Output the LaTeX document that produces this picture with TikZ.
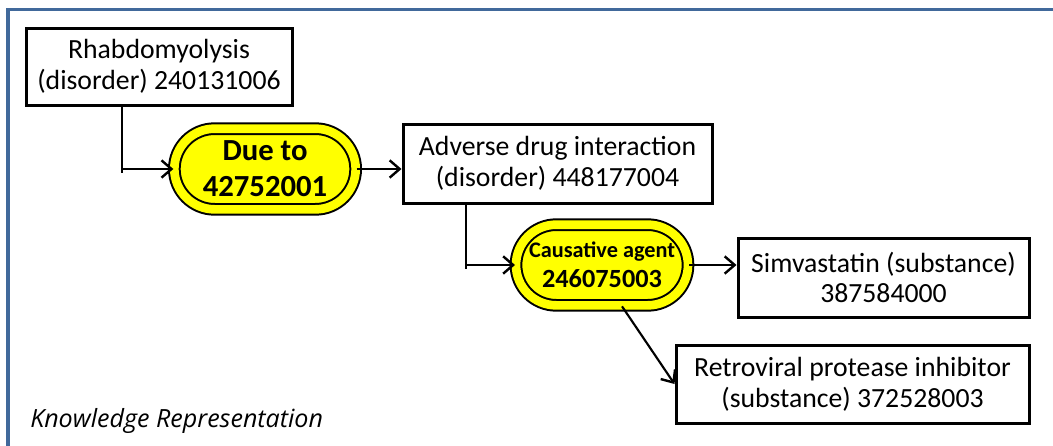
\documentclass[tikz,border=0pt]{standalone}
\usepackage{fontspec}
\setmainfont{Carlito}
\newfontfamily\captionfont{Open Sans}
\usetikzlibrary{shapes.misc, positioning, arrows.meta, calc}
\definecolor{frameblue}{HTML}{41699B}
\definecolor{relyellow}{HTML}{FFFF00}
\tikzset{
  concept/.style={draw, line width=2.25pt, fill=white, align=center, inner sep=2pt,
    font=\fontsize{20.8}{23}\selectfont},
  relation/.style={rounded rectangle, draw, line width=1.5pt, double=relyellow,
    double distance=6.5pt, fill=relyellow, align=center, inner sep=1pt, minimum height=60.5pt},
  link/.style={line width=1.6pt, -{Straight Barb[length=7.5pt,width=13pt,line width=1.8pt]}},
}

\begin{document}
\begin{tikzpicture}[x=0.75pt, y=-0.75pt]
    \useasboundingbox (0,0) rectangle (1053,446);
    % Frame
    \draw[frameblue, line width=2.5pt] (8,446) -- (8,9.5) -- (1053,9.5);

    % Concepts and relations
    \node[concept, minimum width=199.5pt, minimum height=57.75pt] (rhabdo) at (159,66.5)
        {Rhabdomyolysis\\(disorder) 240131006};
    \node[relation, minimum width=138pt, font=\bfseries\fontsize{23}{27}\selectfont] (dueto) at (265,169)
        {Due to\\42752001};
    \node[concept, minimum width=231.75pt, minimum height=59.25pt] (adverse) at (557.5,163.5)
        {Adverse drug interaction\\(disorder) 448177004};
    \node[relation, minimum width=131pt, font=\bfseries\fontsize{19.7}{22.5}\selectfont] (causative) at (602,265)
        {{\fontsize{16.7}{20}\selectfont Causative agent}\\246075003};
    \node[concept, minimum width=218.25pt, minimum height=59.25pt] (simva) at (883.5,277.5)
        {Simvastatin (substance)\\387584000};
    \node[concept, minimum width=264.75pt, minimum height=58.5pt] (retro) at (852.5,384)
        {Retroviral protease inhibitor\\(substance) 372528003};

    % Caption
    \node[font=\captionfont\itshape\fontsize{18.8}{22}\selectfont, anchor=base west, inner sep=0pt] (caption) at (30,427)
        {Knowledge Representation};

    % Links
    \coordinate (rhabdoturn) at ([xshift=-27.75pt]rhabdo.south |- dueto.west);
    \coordinate (adverseturn) at ([xshift=-68.6pt]adverse.south |- causative.west);
    \draw[line width=1.6pt] (rhabdo.south -| rhabdoturn) -- ([yshift=-3pt]rhabdoturn);
    \draw[link] (rhabdoturn) -- (dueto.west);
    \draw[link] (dueto.east) -- (dueto.east -| adverse.west);
    \draw[line width=1.6pt] (adverse.south -| adverseturn) -- ([yshift=-3pt]adverseturn);
    \draw[link] (adverseturn) -- (causative.west);
    \draw[link] (causative.east) -- (causative.east -| simva.west);
    \draw[link] ([xshift=15pt]causative.south) -- (retro.west);
\end{tikzpicture}
\end{document}
